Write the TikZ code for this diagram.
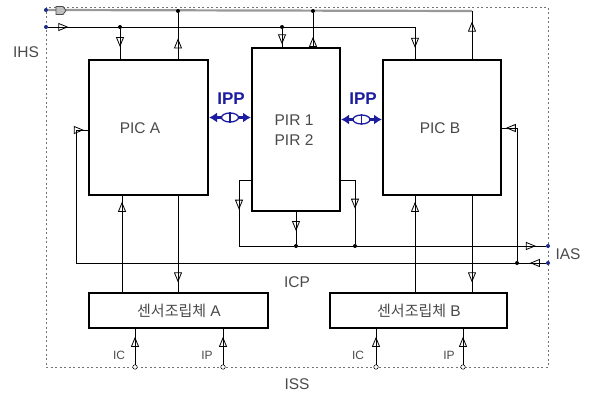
\documentclass[tikz,border=0pt]{standalone}
\usepackage{fontspec}
\setmainfont{Liberation Sans}
\newfontfamily\krfont{Noto Sans CJK KR}
\usetikzlibrary{arrows.meta,decorations.markings,shapes.geometric}
\definecolor{txt}{HTML}{4A4A4A}
\definecolor{ippblue}{HTML}{1C1CA0}
\definecolor{dotblue}{HTML}{1A2A8A}
\begin{document}
\begin{tikzpicture}[x=1pt,y=-1pt,
  blk/.style={draw=black,line width=2pt,fill=white,inner sep=0pt},
  lbl/.style={text=txt,font=\fontsize{15.5}{18}\selectfont,inner sep=0pt},
  small/.style={text=txt,font=\fontsize{12}{14}\selectfont,inner sep=0pt},
  wire/.style={draw=black,line width=0.7pt},
  bus/.style={draw=black!40,line width=2.2pt},
  tri/.style={postaction={decorate},decoration={markings,
      mark=at position #1 with {\arrow[line width=0.8pt]{Triangle[open,length=10pt,width=8pt]}}}},
  jdot/.style={circle,fill=black,inner sep=0pt,minimum size=4pt},
  bdot/.style={circle,fill=dotblue,inner sep=0pt,minimum size=4pt},
  odot/.style={circle,draw=black,fill=white,line width=0.5pt,inner sep=0pt,minimum size=4.5pt},
  ipp/.style={draw=ippblue,line width=2.4pt,{Latex[length=8pt,width=10pt]}-{Latex[length=8pt,width=10pt]}},
  ippmid/.style={ellipse,draw=ippblue,fill=white,line width=1.3pt,minimum width=17pt,minimum height=9pt,inner sep=0pt}
]
\useasboundingbox (0,0) rectangle (591,394);

% ISS dashed border
\coordinate (b1) at (46,7);
\coordinate (b2) at (548,367);
\draw[black!55,line width=0.9pt,dash pattern=on 2pt off 2.5pt] (b1) rectangle (b2);

% boxes
\node[blk,minimum width=119pt,minimum height=135pt] (pica) at (148.5,127.5) {};
\node[blk,minimum width=88pt,minimum height=163pt] (pir) at (296,129.5) {};
\node[blk,minimum width=118pt,minimum height=135pt] (picb) at (442,127.5) {};
\node[blk,minimum width=179pt,minimum height=35pt] (sena) at (178.5,310.5) {};
\node[blk,minimum width=177pt,minimum height=35pt] (senb) at (418.5,310.5) {};

\node[lbl] (tpica) at (140,128) {PIC A};
\node[lbl,align=center] (tpir) at (294,130) {PIR 1\\[2pt]PIR 2};
\node[lbl] (tpicb) at (440,128) {PIC B};
\node[lbl] (tsena) at (179,311) {{\krfont\fontsize{15}{18}\selectfont 센서조립체} A};
\node[lbl] (tsenb) at (419,311) {{\krfont\fontsize{15}{18}\selectfont 센서조립체} B};

% top buses
\node[bdot] (ba) at (46,10) {};
\node[bdot] (bb) at (46,27) {};
\coordinate (ga) at (472,11);
\coordinate (gb) at (415,27);
\draw[bus] (ba.east) -- (ga);
\draw[wire] (ga) -- (ga |- picb.north);
\draw[wire,tri=0.055] (bb) -- (gb);
\draw[black!70,line width=0.8pt,fill=black!25] (56,6.5) -- (63,6.5) -- (66,10.5) -- (63,14.5) -- (56,14.5) -- cycle;
\draw[wire,tri=0.78] (ga |- picb.north) -- (ga);
\draw[wire,tri=0.65] (gb) -- (gb |- picb.north);

\node[jdot] (j1) at (120,27) {};
\node[jdot] (j2) at (178,11) {};
\node[jdot] (j3) at (282,27) {};
\node[jdot] (j4) at (313,11) {};
\draw[wire,tri=0.6] (j1) -- (j1 |- pica.north);
\draw[wire,tri=0.45] (j2 |- pica.north) -- (j2);
\draw[wire,tri=0.85] (j3) -- (j3 |- pir.north);
\draw[wire,tri=0.3] (j4 |- pir.north) -- (j4);

% PIR outputs to IAS
\node[jdot] (j5) at (296,246) {};
\node[jdot] (j6) at (355,246) {};
\coordinate (pl) at (239,180);
\coordinate (pr) at (355,180);
\node[bdot] (ias1) at (548,246) {};
\node[bdot] (ias2) at (548,263) {};
\draw[wire] (pir.west |- pl) -- (pl);
\draw[wire,tri=0.45] (pl) -- (pl |- j5);
\draw[wire] (pl |- j5) -- (j5);
\draw[wire] (pir.east |- pr) -- (pr);
\draw[wire,tri=0.45] (pr) -- (j6);
\draw[wire,tri=0.6] (pir.south) -- (j5);
\draw[wire,tri=0.96] (j5) -- (ias1);

% IAS input bus
\coordinate (la) at (76,263);
\coordinate (lb) at (76,130);
\node[jdot] (j7) at (517,263) {};
\coordinate (rb) at (517,128);
\draw[wire] (ias2) -- (la) -- (lb);
\draw[wire,tri=0.65] (lb) -- (lb -| pica.west);
\draw[wire] (j7) -- (rb);
\draw[wire,tri=0.75] (rb) -- (rb -| picb.east);
\draw[wire,tri=0.6] (ias2) -- (j7);

% PIC to sensors
\coordinate (a1) at (122,293);
\coordinate (a2) at (178,195);
\coordinate (c1) at (415,293);
\coordinate (c2) at (472,195);
\draw[wire,tri=0.94] (a1) -- (a1 |- pica.south);
\draw[wire,tri=0.9] (a2 |- pica.south) -- (a2 |- sena.north);
\draw[wire,tri=0.94] (c1) -- (c1 |- picb.south);
\draw[wire,tri=0.9] (c2 |- picb.south) -- (c2 |- senb.north);

% sensor inputs
\node[odot] (ia) at (135,367) {};
\node[odot] (pa) at (223,367) {};
\node[odot] (ib) at (376,367) {};
\node[odot] (pb) at (463,367) {};
\draw[wire,tri=0.78] (ia) -- (ia |- sena.south);
\draw[wire,tri=0.78] (pa) -- (pa |- sena.south);
\draw[wire,tri=0.78] (ib) -- (ib |- senb.south);
\draw[wire,tri=0.78] (pb) -- (pb |- senb.south);
\node[small] (lia) at (119,355) {IC};
\node[small] (lpa) at (207,355) {IP};
\node[small] (lib) at (358,355) {IC};
\node[small] (lpb) at (449,355) {IP};

% IPP
\draw[ipp] ([yshift=10pt]pica.east) -- ([yshift=10pt]pica.east -| pir.west) coordinate[midway] (m1);
\node[ippmid] (e1) at (m1) {};
\draw[ippblue,line width=1.3pt] ([yshift=5.5pt]e1.center) -- ([yshift=-5.5pt]e1.center);
\draw[ipp] ([yshift=10pt]pir.east) -- ([yshift=10pt]pir.east -| picb.west) coordinate[midway] (m2);
\node[ippmid] (e2) at (m2) {};
\draw[ippblue,line width=1.3pt] ([yshift=5.5pt]e2.center) -- ([yshift=-5.5pt]e2.center);
\node[text=ippblue,font=\bfseries\fontsize{17}{20}\selectfont,inner sep=0pt] (ipp1) at (231,99) {IPP};
\node[text=ippblue,font=\bfseries\fontsize{17}{20}\selectfont,inner sep=0pt] (ipp2) at (363,99) {IPP};

% region labels
\node[lbl] (ihs) at (26,52) {IHS};
\node[lbl] (ias) at (568,254) {IAS};
\node[lbl] (icp) at (297,282) {ICP};
\node[lbl] (iss) at (297,384) {ISS};
\end{tikzpicture}
\end{document}
